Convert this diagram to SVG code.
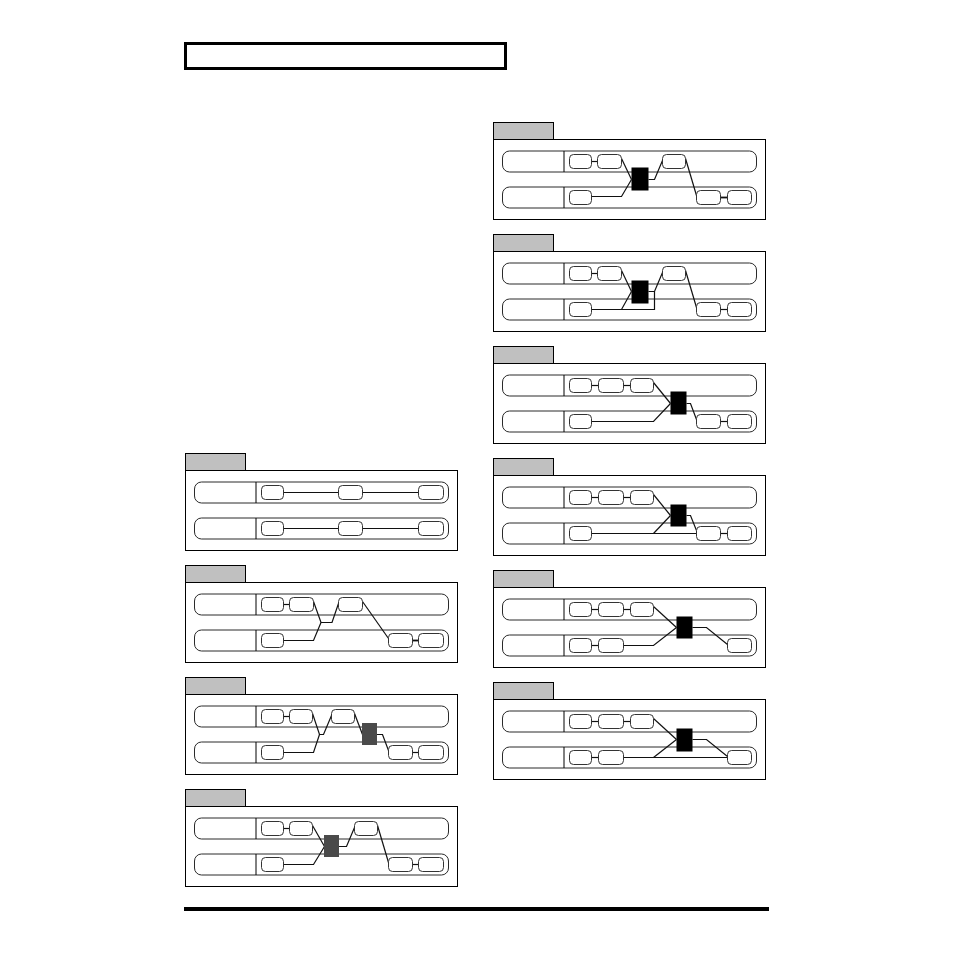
<svg xmlns="http://www.w3.org/2000/svg" width="954" height="954" viewBox="0 0 954 954">
<defs>
<style>
.tab{fill:#c0c0c0;stroke:#000;stroke-width:1}
.box{fill:#fff;stroke:#000;stroke-width:1}
.row{fill:#fff;stroke:#2a2a2a;stroke-width:1}
.div{stroke:#000;stroke-width:1}
.nd{fill:#fff;stroke:#333;stroke-width:1}
.ln{fill:none;stroke:#111;stroke-width:1.2}
.lk{fill:none;stroke:#111;stroke-width:1.8}
.gfx{fill:#4a4a4a}
.bfx{fill:#000}
</style>
<g id="rows">
<rect class="row" x="9" y="11.5" width="254" height="21" rx="7"/>
<line class="div" x1="70.5" y1="11.5" x2="70.5" y2="32.5"/>
<rect class="row" x="9" y="47.5" width="254" height="21" rx="7"/>
<line class="div" x1="70.5" y1="47.5" x2="70.5" y2="68.5"/>
</g>
</defs>
<rect width="954" height="954" fill="#fff"/>
<rect id="header" x="185.5" y="43.5" width="320" height="25" fill="none" stroke="#000" stroke-width="3"/>
<rect id="footer" x="184" y="907" width="585" height="4" fill="#000"/>

<!-- L1 -->
<g id="panel-L1" transform="translate(185.5,470.5)">
<rect class="tab" x="0" y="-17" width="60" height="17"/>
<rect class="box" x="0" y="0" width="272" height="80"/>
<use href="#rows"/>
<g id="L1-connectors">
<line class="ln" x1="98" y1="22" x2="153" y2="22"/><line class="ln" x1="177" y1="22" x2="233" y2="22"/>
<line class="ln" x1="98" y1="58" x2="153" y2="58"/><line class="ln" x1="177" y1="58" x2="233" y2="58"/>
</g>
<g id="L1-a"><rect class="nd" x="76" y="15" width="22" height="14" rx="4"/></g>
<g id="L1-b"><rect class="nd" x="153" y="15" width="24" height="14" rx="4"/></g>
<g id="L1-c"><rect class="nd" x="233" y="15" width="25" height="14" rx="4"/></g>
<g id="L1-d"><rect class="nd" x="76" y="51" width="22" height="14" rx="4"/></g>
<g id="L1-e"><rect class="nd" x="153" y="51" width="24" height="14" rx="4"/></g>
<g id="L1-f"><rect class="nd" x="233" y="51" width="25" height="14" rx="4"/></g>
</g>

<!-- L2 -->
<g id="panel-L2" transform="translate(185.5,582.5)">
<rect class="tab" x="0" y="-17" width="60" height="17"/>
<rect class="box" x="0" y="0" width="272" height="80"/>
<use href="#rows"/>
<g id="L2-connectors">
<line class="ln" x1="98" y1="22" x2="104" y2="22"/>
<line class="lk" x1="227" y1="58" x2="233" y2="58"/>
<polyline class="ln" points="128,19 135.5,40 146.5,40 153,21"/>
<polyline class="ln" points="98,58 128,58 135.5,40"/>
<line class="ln" x1="177" y1="19" x2="203" y2="56"/>
</g>
<g id="L2-a"><rect class="nd" x="76" y="15" width="22" height="14" rx="4"/></g>
<g id="L2-b"><rect class="nd" x="104" y="15" width="24" height="14" rx="4"/></g>
<g id="L2-c"><rect class="nd" x="153" y="15" width="24" height="14" rx="4"/></g>
<g id="L2-d"><rect class="nd" x="76" y="51" width="22" height="14" rx="4"/></g>
<g id="L2-e"><rect class="nd" x="203" y="51" width="24" height="14" rx="4"/></g>
<g id="L2-f"><rect class="nd" x="233" y="51" width="25" height="14" rx="4"/></g>
</g>

<!-- L3 -->
<g id="panel-L3" transform="translate(185.5,694.5)">
<rect class="tab" x="0" y="-17" width="60" height="17"/>
<rect class="box" x="0" y="0" width="272" height="80"/>
<use href="#rows"/>
<g id="L3-connectors">
<line class="ln" x1="98" y1="22" x2="104" y2="22"/>
<line class="ln" x1="227" y1="58" x2="233" y2="58"/>
<polyline class="ln" points="127,19 134,40 138,40 146,21"/>
<polyline class="ln" points="98,58 128,58 134,40"/>
<line class="ln" x1="169" y1="19" x2="177" y2="40"/>
<polyline class="ln" points="191,40 197,40 203,56"/>
</g>
<g id="L3-a"><rect class="nd" x="76" y="15" width="22" height="14" rx="4"/></g>
<g id="L3-b"><rect class="nd" x="104" y="15" width="23" height="14" rx="4"/></g>
<g id="L3-c"><rect class="nd" x="146" y="15" width="23" height="14" rx="4"/></g>
<g id="L3-fx"><rect class="gfx" x="176.5" y="28.5" width="15" height="22"/></g>
<g id="L3-d"><rect class="nd" x="76" y="51" width="22" height="14" rx="4"/></g>
<g id="L3-e"><rect class="nd" x="203" y="51" width="24" height="14" rx="4"/></g>
<g id="L3-f"><rect class="nd" x="233" y="51" width="25" height="14" rx="4"/></g>
</g>

<!-- L4 -->
<g id="panel-L4" transform="translate(185.5,806.5)">
<rect class="tab" x="0" y="-17" width="60" height="17"/>
<rect class="box" x="0" y="0" width="272" height="80"/>
<use href="#rows"/>
<g id="L4-connectors">
<line class="ln" x1="98" y1="22" x2="104" y2="22"/>
<line class="ln" x1="227" y1="58" x2="233" y2="58"/>
<line class="ln" x1="127" y1="19" x2="139" y2="40"/>
<polyline class="ln" points="98,58 128,58 139,40"/>
<polyline class="ln" points="153,40 161,40 169,21"/>
<line class="ln" x1="192" y1="19" x2="203" y2="56"/>
</g>
<g id="L4-a"><rect class="nd" x="76" y="15" width="22" height="14" rx="4"/></g>
<g id="L4-b"><rect class="nd" x="104" y="15" width="23" height="14" rx="4"/></g>
<g id="L4-fx"><rect class="gfx" x="138.5" y="28.5" width="15" height="22"/></g>
<g id="L4-c"><rect class="nd" x="169" y="15" width="23" height="14" rx="4"/></g>
<g id="L4-d"><rect class="nd" x="76" y="51" width="22" height="14" rx="4"/></g>
<g id="L4-e"><rect class="nd" x="203" y="51" width="24" height="14" rx="4"/></g>
<g id="L4-f"><rect class="nd" x="233" y="51" width="25" height="14" rx="4"/></g>
</g>

<!-- R1 -->
<g id="panel-R1" transform="translate(493.5,139.5)">
<rect class="tab" x="0" y="-17" width="60" height="17"/>
<rect class="box" x="0" y="0" width="272" height="80"/>
<use href="#rows"/>
<g id="R1-connectors">
<line class="ln" x1="98" y1="22" x2="104" y2="22"/>
<line class="lk" x1="227" y1="58" x2="234" y2="58"/>
<line class="ln" x1="128" y1="19" x2="138" y2="40"/>
<polyline class="ln" points="98,57 128,57 138,40"/>
<polyline class="ln" points="155,40 161,40 169,21"/>
<line class="ln" x1="192" y1="19" x2="203" y2="56"/>
</g>
<g id="R1-a"><rect class="nd" x="76" y="15" width="22" height="14" rx="4"/></g>
<g id="R1-b"><rect class="nd" x="104" y="15" width="24" height="14" rx="4"/></g>
<g id="R1-fx"><rect class="bfx" x="138" y="28" width="17" height="23"/></g>
<g id="R1-c"><rect class="nd" x="169" y="15" width="23" height="14" rx="4"/></g>
<g id="R1-d"><rect class="nd" x="76" y="51" width="22" height="14" rx="4"/></g>
<g id="R1-e"><rect class="nd" x="203" y="51" width="24" height="14" rx="4"/></g>
<g id="R1-f"><rect class="nd" x="234" y="51" width="24" height="14" rx="4"/></g>
</g>

<!-- R2 -->
<g id="panel-R2" transform="translate(493.5,251.5)">
<rect class="tab" x="0" y="-17" width="60" height="17"/>
<rect class="box" x="0" y="0" width="272" height="80"/>
<use href="#rows"/>
<g id="R2-connectors">
<line class="ln" x1="98" y1="22" x2="104" y2="22"/>
<line class="ln" x1="227" y1="58" x2="234" y2="58"/>
<line class="ln" x1="128" y1="19" x2="138" y2="40"/>
<polyline class="ln" points="98,58 128,58 138,40"/>
<polyline class="ln" points="128,58 161,58 161,40"/>
<polyline class="ln" points="155,40 161,40 169,21"/>
<line class="ln" x1="192" y1="19" x2="203" y2="56"/>
</g>
<g id="R2-a"><rect class="nd" x="76" y="15" width="22" height="14" rx="4"/></g>
<g id="R2-b"><rect class="nd" x="104" y="15" width="24" height="14" rx="4"/></g>
<g id="R2-fx"><rect class="bfx" x="138" y="29" width="17" height="23"/></g>
<g id="R2-c"><rect class="nd" x="169" y="15" width="23" height="14" rx="4"/></g>
<g id="R2-d"><rect class="nd" x="76" y="51" width="22" height="14" rx="4"/></g>
<g id="R2-e"><rect class="nd" x="203" y="51" width="24" height="14" rx="4"/></g>
<g id="R2-f"><rect class="nd" x="234" y="51" width="24" height="14" rx="4"/></g>
</g>

<!-- R3 -->
<g id="panel-R3" transform="translate(493.5,363.5)">
<rect class="tab" x="0" y="-17" width="60" height="17"/>
<rect class="box" x="0" y="0" width="272" height="80"/>
<use href="#rows"/>
<g id="R3-connectors">
<line class="ln" x1="98" y1="22" x2="105" y2="22"/>
<line class="ln" x1="130" y1="22" x2="137" y2="22"/>
<line class="ln" x1="227" y1="58" x2="234" y2="58"/>
<line class="ln" x1="160" y1="19" x2="177" y2="40"/>
<polyline class="ln" points="98,58 160,58 177,40"/>
<polyline class="ln" points="193,40 197,40 203,56"/>
</g>
<g id="R3-a"><rect class="nd" x="76" y="15" width="22" height="14" rx="4"/></g>
<g id="R3-b"><rect class="nd" x="105" y="15" width="25" height="14" rx="4"/></g>
<g id="R3-c"><rect class="nd" x="137" y="15" width="23" height="14" rx="4"/></g>
<g id="R3-fx"><rect class="bfx" x="177" y="28" width="16" height="23"/></g>
<g id="R3-d"><rect class="nd" x="76" y="51" width="22" height="14" rx="4"/></g>
<g id="R3-e"><rect class="nd" x="203" y="51" width="24" height="14" rx="4"/></g>
<g id="R3-f"><rect class="nd" x="234" y="51" width="24" height="14" rx="4"/></g>
</g>

<!-- R4 -->
<g id="panel-R4" transform="translate(493.5,475.5)">
<rect class="tab" x="0" y="-17" width="60" height="17"/>
<rect class="box" x="0" y="0" width="272" height="80"/>
<use href="#rows"/>
<g id="R4-connectors">
<line class="ln" x1="98" y1="22" x2="105" y2="22"/>
<line class="ln" x1="130" y1="22" x2="137" y2="22"/>
<line class="ln" x1="227" y1="58" x2="234" y2="58"/>
<line class="ln" x1="160" y1="19" x2="177" y2="40"/>
<line class="ln" x1="98" y1="58" x2="203" y2="58"/>
<line class="ln" x1="160" y1="58" x2="177" y2="40"/>
<polyline class="ln" points="193,40 197,40 203,55"/>
</g>
<g id="R4-a"><rect class="nd" x="76" y="15" width="22" height="14" rx="4"/></g>
<g id="R4-b"><rect class="nd" x="105" y="15" width="25" height="14" rx="4"/></g>
<g id="R4-c"><rect class="nd" x="137" y="15" width="23" height="14" rx="4"/></g>
<g id="R4-fx"><rect class="bfx" x="177" y="29" width="16" height="22"/></g>
<g id="R4-d"><rect class="nd" x="76" y="51" width="22" height="14" rx="4"/></g>
<g id="R4-e"><rect class="nd" x="203" y="51" width="24" height="14" rx="4"/></g>
<g id="R4-f"><rect class="nd" x="234" y="51" width="24" height="14" rx="4"/></g>
</g>

<!-- R5 -->
<g id="panel-R5" transform="translate(493.5,587.5)">
<rect class="tab" x="0" y="-17" width="60" height="17"/>
<rect class="box" x="0" y="0" width="272" height="80"/>
<use href="#rows"/>
<g id="R5-connectors">
<line class="ln" x1="98" y1="22" x2="105" y2="22"/>
<line class="ln" x1="130" y1="22" x2="137" y2="22"/>
<line class="ln" x1="98" y1="58" x2="105" y2="58"/>
<line class="ln" x1="160" y1="19" x2="183" y2="40"/>
<polyline class="ln" points="130,58 160,58 183,40"/>
<polyline class="ln" points="199,40 213,40 234,57"/>
</g>
<g id="R5-a"><rect class="nd" x="76" y="15" width="22" height="14" rx="4"/></g>
<g id="R5-b"><rect class="nd" x="105" y="15" width="25" height="14" rx="4"/></g>
<g id="R5-c"><rect class="nd" x="137" y="15" width="23" height="14" rx="4"/></g>
<g id="R5-fx"><rect class="bfx" x="183" y="29" width="16" height="22"/></g>
<g id="R5-d"><rect class="nd" x="76" y="51" width="22" height="14" rx="4"/></g>
<g id="R5-e"><rect class="nd" x="105" y="51" width="25" height="14" rx="4"/></g>
<g id="R5-f"><rect class="nd" x="234" y="51" width="24" height="14" rx="4"/></g>
</g>

<!-- R6 -->
<g id="panel-R6" transform="translate(493.5,699.5)">
<rect class="tab" x="0" y="-17" width="60" height="17"/>
<rect class="box" x="0" y="0" width="272" height="80"/>
<use href="#rows"/>
<g id="R6-connectors">
<line class="ln" x1="98" y1="22" x2="105" y2="22"/>
<line class="ln" x1="130" y1="22" x2="137" y2="22"/>
<line class="ln" x1="98" y1="58" x2="105" y2="58"/>
<line class="ln" x1="160" y1="19" x2="183" y2="40"/>
<line class="ln" x1="130" y1="58" x2="234" y2="58"/>
<line class="ln" x1="160" y1="58" x2="183" y2="40"/>
<polyline class="ln" points="199,40 213,40 234,57"/>
</g>
<g id="R6-a"><rect class="nd" x="76" y="15" width="22" height="14" rx="4"/></g>
<g id="R6-b"><rect class="nd" x="105" y="15" width="25" height="14" rx="4"/></g>
<g id="R6-c"><rect class="nd" x="137" y="15" width="23" height="14" rx="4"/></g>
<g id="R6-fx"><rect class="bfx" x="183" y="29" width="16" height="23"/></g>
<g id="R6-d"><rect class="nd" x="76" y="51" width="22" height="14" rx="4"/></g>
<g id="R6-e"><rect class="nd" x="105" y="51" width="25" height="14" rx="4"/></g>
<g id="R6-f"><rect class="nd" x="234" y="51" width="24" height="14" rx="4"/></g>
</g>
</svg>
